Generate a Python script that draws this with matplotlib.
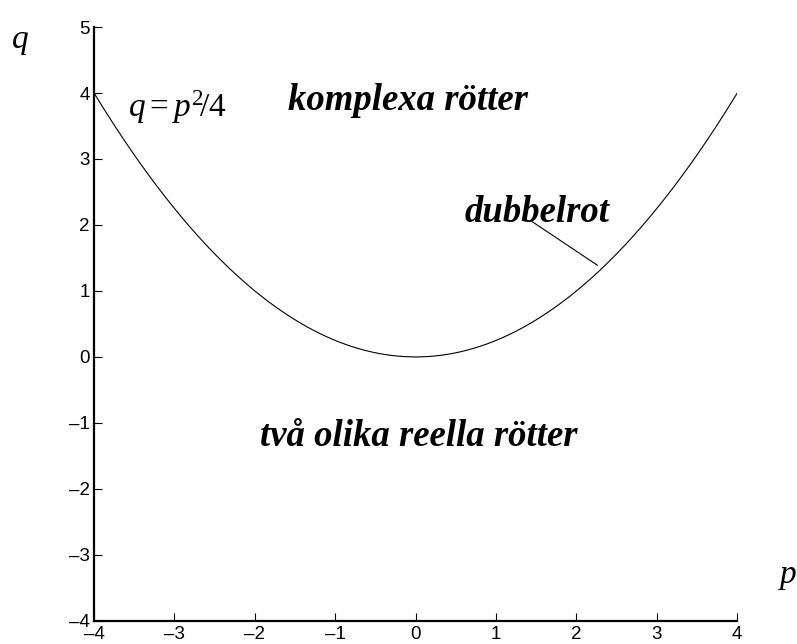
import numpy as np
import matplotlib.pyplot as plt

# parabola q = p^2/4 separating the root regions
p = np.linspace(-4, 4, 400)
q = p ** 2 / 4

xticks = [-4, -3, -2, -1, 0, 1, 2, 3, 4]
yticks = [-4, -3, -2, -1, 0, 1, 2, 3, 4, 5]
region_labels = ["komplexa rötter", "dubbelrot", "två olika reella rötter"]
region_pos = [(-0.10, 3.89), (1.505, 2.19), (0.04, -1.21)]
pointer = ([1.45, 2.26], [2.05, 1.39])

plt.rcParams["font.family"] = ["Liberation Sans", "DejaVu Sans"]
plt.rcParams["mathtext.fontset"] = "custom"
plt.rcParams["mathtext.it"] = "Liberation Serif:italic"
plt.rcParams["mathtext.rm"] = "Liberation Serif"

fig = plt.figure(figsize=(7.97, 6.44), dpi=100)
ax = fig.add_axes([0.118, 0.036, 0.807, 0.922])

ax.plot(p, q, color="black", linewidth=0.8)
ax.plot(pointer[0], pointer[1], color="black", linewidth=0.8)

ax.set_xlim(-4, 4)
ax.set_ylim(-4, 5)
ax.set_xticks(xticks)
ax.set_yticks(yticks)
ax.set_xticklabels([str(t).replace("-", "\u2013") for t in xticks])
ax.set_yticklabels([str(t).replace("-", "\u2013") for t in yticks])
ax.tick_params(direction="in", length=6, width=0.8, labelsize=13.5)
ax.tick_params(axis="x", pad=4)
ax.tick_params(axis="y", pad=3)
ax.spines["top"].set_visible(False)
ax.spines["right"].set_visible(False)
for s in ("left", "bottom"):
    ax.spines[s].set_linewidth(1.6)

serif = ["Liberation Serif", "DejaVu Serif"]
for text, (x, y) in zip(region_labels, region_pos):
    ax.text(x, y, text, ha="center", va="center", fontsize=26.5,
            fontweight="bold", fontstyle="italic", family=serif)

ax.text(-3.58, 3.79, r"$q = p^2\!/4$", ha="left", va="center", fontsize=24)
ax.text(-4.92, 4.80, "q", ha="center", va="center", fontsize=24,
        fontstyle="italic", family=serif, clip_on=False)
ax.text(4.63, -3.30, "p", ha="center", va="center", fontsize=24,
        fontstyle="italic", family=serif, clip_on=False)

fig.savefig("out.png", dpi=100)
